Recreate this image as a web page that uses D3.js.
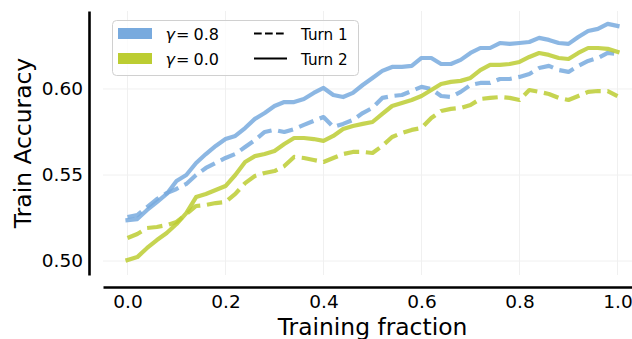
<!DOCTYPE html>
<html>
<head>
<meta charset="utf-8">
<script src="https://cdn.jsdelivr.net/npm/d3@7"></script>
<style>
  html, body { margin: 0; padding: 0; background: #ffffff; }
  svg { display: block; }
  text { font-family: "DejaVu Sans", sans-serif; fill: #000; }
</style>
</head>
<body>
<div id="chart"></div>
<script>
// ---- data ----
const trainingFraction = [0.00, 0.02, 0.04, 0.06, 0.08, 0.10, 0.12, 0.14, 0.16, 0.18,
  0.20, 0.22, 0.24, 0.26, 0.28, 0.30, 0.32, 0.34, 0.36, 0.38,
  0.40, 0.42, 0.44, 0.46, 0.48, 0.50, 0.52, 0.54, 0.56, 0.58,
  0.60, 0.62, 0.64, 0.66, 0.68, 0.70, 0.72, 0.74, 0.76, 0.78,
  0.80, 0.82, 0.84, 0.86, 0.88, 0.90, 0.92, 0.94, 0.96, 0.98, 1.00];

const gamma08Turn2 = [0.5238, 0.5244, 0.5297, 0.5343, 0.5390, 0.5465, 0.5500, 0.5570, 0.5622, 0.5669,
  0.5709, 0.5727, 0.5773, 0.5826, 0.5860, 0.5901, 0.5924, 0.5924, 0.5942, 0.5977,
  0.6006, 0.5965, 0.5953, 0.5977, 0.6023, 0.6064, 0.6105, 0.6128, 0.6128, 0.6134,
  0.6180, 0.6180, 0.6145, 0.6145, 0.6169, 0.6209, 0.6238, 0.6238, 0.6267, 0.6262,
  0.6267, 0.6273, 0.6297, 0.6285, 0.6267, 0.6262, 0.6302, 0.6337, 0.6349, 0.6378, 0.6366];

const gamma08Turn1 = [0.5256, 0.5267, 0.5314, 0.5360, 0.5395, 0.5419, 0.5448, 0.5500, 0.5541, 0.5570,
  0.5599, 0.5622, 0.5663, 0.5703, 0.5750, 0.5762, 0.5750, 0.5767, 0.5791, 0.5814,
  0.5837, 0.5779, 0.5797, 0.5820, 0.5860, 0.5890, 0.5948, 0.5959, 0.5965, 0.5988,
  0.6012, 0.6000, 0.5959, 0.5953, 0.5983, 0.6023, 0.6035, 0.6035, 0.6058, 0.6058,
  0.6070, 0.6087, 0.6122, 0.6134, 0.6110, 0.6099, 0.6134, 0.6163, 0.6180, 0.6209, 0.6203];

const gamma00Turn2 = [0.5006, 0.5023, 0.5076, 0.5122, 0.5163, 0.5215, 0.5279, 0.5372, 0.5390, 0.5413,
  0.5436, 0.5500, 0.5576, 0.5610, 0.5622, 0.5640, 0.5680, 0.5715, 0.5715, 0.5709,
  0.5698, 0.5727, 0.5767, 0.5785, 0.5797, 0.5808, 0.5855, 0.5901, 0.5919, 0.5936,
  0.5959, 0.5994, 0.6029, 0.6041, 0.6047, 0.6064, 0.6110, 0.6140, 0.6140, 0.6145,
  0.6157, 0.6186, 0.6209, 0.6198, 0.6180, 0.6174, 0.6209, 0.6238, 0.6238, 0.6233, 0.6215];

const gamma00Turn1 = [0.5134, 0.5157, 0.5192, 0.5198, 0.5209, 0.5227, 0.5273, 0.5320, 0.5326, 0.5337,
  0.5343, 0.5390, 0.5453, 0.5494, 0.5512, 0.5523, 0.5552, 0.5605, 0.5599, 0.5587,
  0.5576, 0.5599, 0.5622, 0.5634, 0.5634, 0.5628, 0.5669, 0.5721, 0.5744, 0.5762,
  0.5773, 0.5831, 0.5872, 0.5884, 0.5890, 0.5907, 0.5942, 0.5948, 0.5953, 0.5948,
  0.5936, 0.5994, 0.5983, 0.5971, 0.5948, 0.5936, 0.5959, 0.5983, 0.5988, 0.5988, 0.5959];

const xTicks = [0.0, 0.2, 0.4, 0.6, 0.8, 1.0];
const yTicks = [0.50, 0.55, 0.60];
const gammaLabels = ["0.8", "0.0"];
const turnLabels = ["Turn 1", "Turn 2"];
const xLabel = "Training fraction";
const yLabel = "Train Accuracy";

// ---- styles ----
const W = 632, H = 339;
const colBlue = "#78aade", colGreen = "#bccd32";
const lineW = 4.2, dashPat = "15.4,6.7";

const svg = d3.select("#chart").append("svg")
  .attr("width", W).attr("height", H)
  .style("background", "#fff");

const x = d3.scaleLinear().domain([-0.05, 1.05]).range([103, 642]);
const y = d3.scaleLinear().domain([0.4919, 0.6453]).range([275, 11]);

// grid
const grid = svg.append("g");
grid.selectAll("line.vg").data(xTicks).join("line")
  .attr("x1", d => x(d)).attr("x2", d => x(d))
  .attr("y1", y.range()[1]).attr("y2", y.range()[0])
  .attr("stroke", "#f0f0f0").attr("stroke-width", 1);
grid.selectAll("line.hg").data(yTicks).join("line")
  .attr("x1", x.range()[0]).attr("x2", x.range()[1])
  .attr("y1", d => y(d)).attr("y2", d => y(d))
  .attr("stroke", "#f0f0f0").attr("stroke-width", 1);

// axes (offset spines)
const yAxis = svg.append("g").attr("transform", "translate(89,0)")
  .call(d3.axisLeft(y).tickValues(yTicks).tickFormat(d3.format(".2f")).tickSize(0).tickSizeOuter(0).tickPadding(6));
const xAxis = svg.append("g").attr("transform", "translate(0,287)")
  .call(d3.axisBottom(x).tickValues(xTicks).tickFormat(d3.format(".1f")).tickSize(0).tickSizeOuter(0).tickPadding(8));
[yAxis, xAxis].forEach(a => {
  a.select(".domain").attr("stroke", "#000").attr("stroke-width", 2.6);
  a.selectAll("text").attr("font-family", "DejaVu Sans").attr("font-size", 18.5).attr("fill", "#000");
});

// axis labels
svg.append("text")
  .attr("transform", `translate(31,${(y.range()[0] + y.range()[1]) / 2}) rotate(-90)`)
  .attr("text-anchor", "middle").attr("font-size", 23.4).text(yLabel);
svg.append("text")
  .attr("x", (x.range()[0] + x.range()[1]) / 2).attr("y", 334.5)
  .attr("text-anchor", "middle").attr("font-size", 23.4).text(xLabel);

// lines
const series = [
  { vals: gamma08Turn1, color: colBlue, dashed: true },
  { vals: gamma08Turn2, color: colBlue, dashed: false },
  { vals: gamma00Turn1, color: colGreen, dashed: true },
  { vals: gamma00Turn2, color: colGreen, dashed: false }
];
const line = d3.line().x((d, i) => x(trainingFraction[i])).y(d => y(d));
svg.append("g").selectAll("path").data(series).join("path")
  .attr("d", d => line(d.vals))
  .attr("fill", "none")
  .attr("stroke", d => d.color)
  .attr("stroke-opacity", 0.85)
  .attr("stroke-width", lineW)
  .attr("stroke-linejoin", "round")
  .attr("stroke-linecap", d => d.dashed ? "butt" : "square")
  .attr("stroke-dasharray", d => d.dashed ? dashPat : null);

// legend
const lg = svg.append("g");
lg.append("rect").attr("x", 112.5).attr("y", 20.5).attr("width", 246).attr("height", 55)
  .attr("rx", 4).attr("fill", "#fff").attr("fill-opacity", 0.8)
  .attr("stroke", "#d0d0d0").attr("stroke-width", 1);
const rowY = [33.5, 58.5];
const patchCols = [colBlue, colGreen];
gammaLabels.forEach((g, i) => {
  lg.append("rect").attr("x", 118).attr("y", rowY[i] - 5.5).attr("width", 34).attr("height", 11)
    .attr("fill", patchCols[i]);
  const t = lg.append("text").attr("y", rowY[i] + 6).attr("font-size", 16);
  t.append("tspan").attr("x", 165.5).attr("font-style", "italic").text("γ");
  t.append("tspan").attr("x", 176).text("=");
  t.append("tspan").attr("x", 193.5).text(g);
});
turnLabels.forEach((lab, i) => {
  lg.append("line").attr("x1", 254).attr("x2", 287).attr("y1", rowY[i]).attr("y2", rowY[i])
    .attr("stroke", "#000").attr("stroke-width", 2)
    .attr("stroke-dasharray", i === 0 ? "7.7,3.3" : null);
  lg.append("text").attr("x", 301).attr("y", rowY[i] + 6).attr("font-size", 15.2).text(lab);
});
</script>
</body>
</html>
